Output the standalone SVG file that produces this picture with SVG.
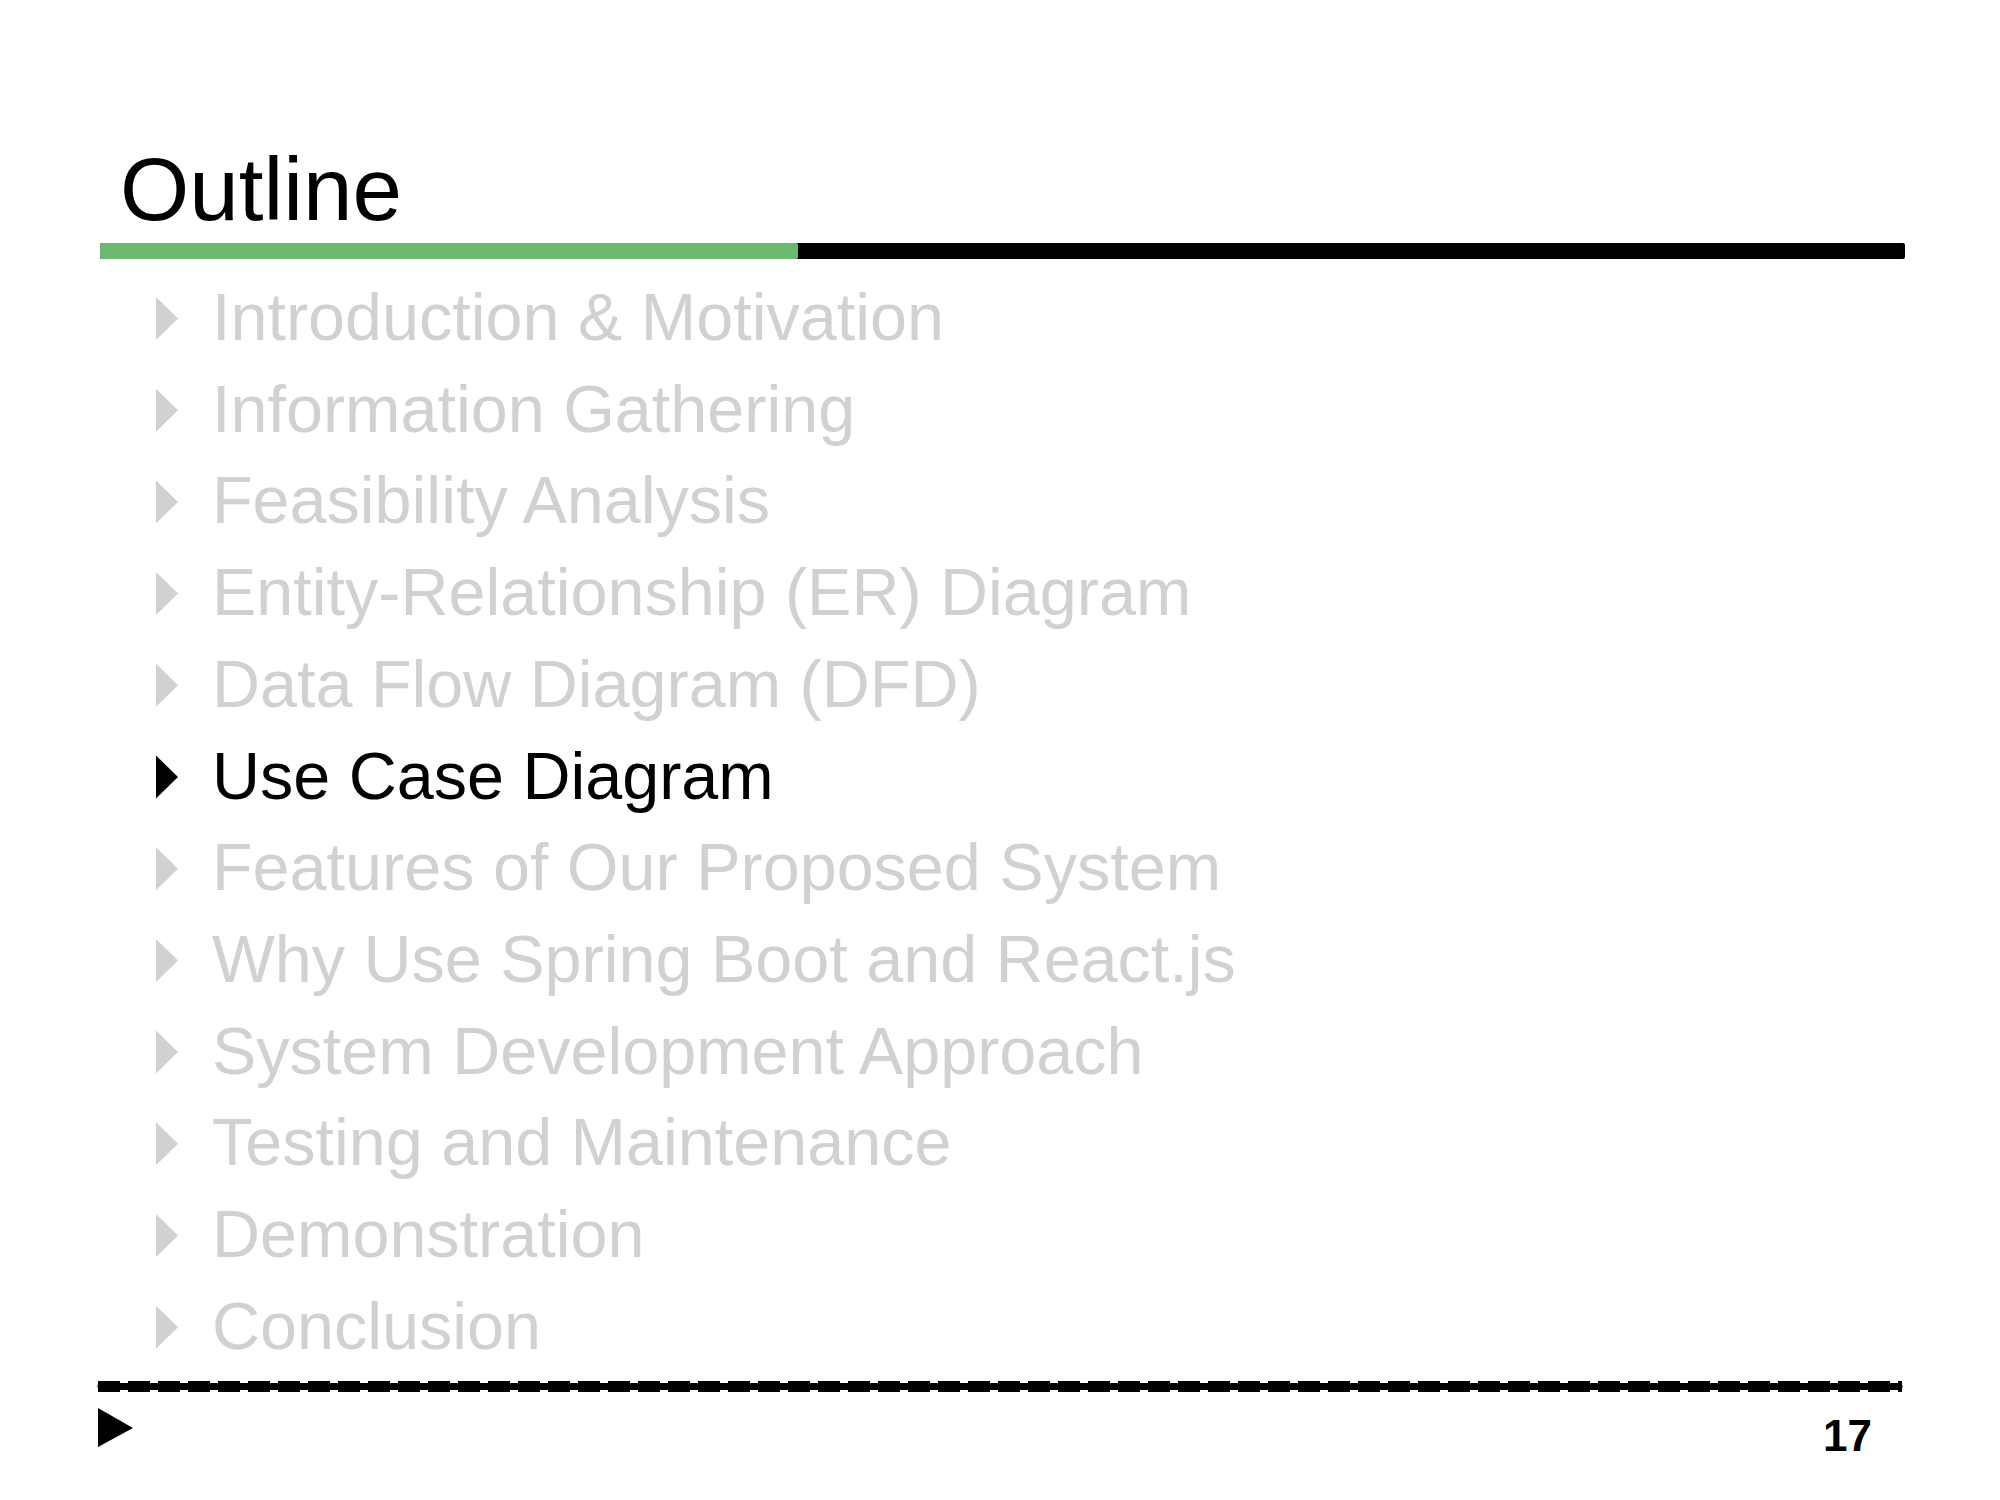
<svg xmlns="http://www.w3.org/2000/svg" width="2000" height="1500" viewBox="0 0 2000 1500">
<style>
text{font-family:"Liberation Sans",Arial,Helvetica,sans-serif}
.it{font-size:66.5px;fill:#d1d1d1}
.cur{fill:#000}
.tri{fill:#d1d1d1}
.tri.cur{fill:#000}
</style>
<defs>
<path id="bul" d="M0,-43 L22,-21.5 L0,0 Z"/>
</defs>
<rect width="2000" height="1500" fill="#fff"/>
<g id="title">
<text x="120" y="220" font-size="89" fill="#000">Outline</text>
<rect x="100" y="243" width="1805" height="16" rx="2" fill="#000"/>
<rect x="100" y="243" width="698" height="16" rx="2" fill="#6ab96e"/>
</g>
<g id="items">
<use href="#bul" x="156" y="340" class="tri"/><text x="212" y="340" class="it">Introduction &amp; Motivation</text>
<use href="#bul" x="156" y="431.7" class="tri"/><text x="212" y="431.7" class="it">Information Gathering</text>
<use href="#bul" x="156" y="523.4" class="tri"/><text x="212" y="523.4" class="it">Feasibility Analysis</text>
<use href="#bul" x="156" y="615.1" class="tri"/><text x="212" y="615.1" class="it">Entity-Relationship (ER) Diagram</text>
<use href="#bul" x="156" y="706.8" class="tri"/><text x="212" y="706.8" class="it">Data Flow Diagram (DFD)</text>
<use href="#bul" x="156" y="798.5" class="tri cur"/><text x="212" y="798.5" class="it cur">Use Case Diagram</text>
<use href="#bul" x="156" y="890.2" class="tri"/><text x="212" y="890.2" class="it">Features of Our Proposed System</text>
<use href="#bul" x="156" y="981.9" class="tri"/><text x="212" y="981.9" class="it">Why Use Spring Boot and React.js</text>
<use href="#bul" x="156" y="1073.6" class="tri"/><text x="212" y="1073.6" class="it">System Development Approach</text>
<use href="#bul" x="156" y="1165.3" class="tri"/><text x="212" y="1165.3" class="it">Testing and Maintenance</text>
<use href="#bul" x="156" y="1257" class="tri"/><text x="212" y="1257" class="it">Demonstration</text>
<use href="#bul" x="156" y="1348.7" class="tri"/><text x="212" y="1348.7" class="it">Conclusion</text>
</g>
<g id="footer">
<line x1="101" y1="1386.5" x2="1899" y2="1386.5" stroke="#000" stroke-width="7" stroke-linecap="round"/>
<line x1="98" y1="1386.5" x2="1902" y2="1386.5" stroke="#000" stroke-width="11" stroke-dasharray="22 8"/>
<path d="M98,1408 L133,1428 L98,1447 Z" fill="#000"/>
<text x="1872" y="1451" font-size="44" font-weight="bold" text-anchor="end" fill="#000">17</text>
</g>
</svg>
